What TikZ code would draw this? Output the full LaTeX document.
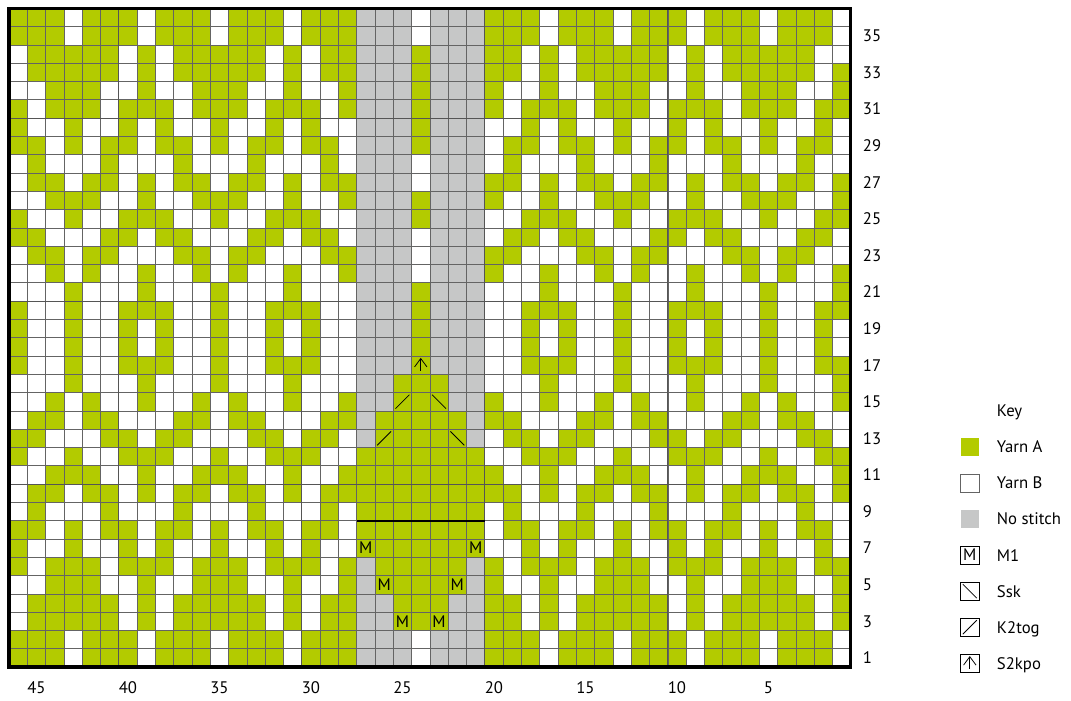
\documentclass[tikz,border=0pt]{standalone}
\usepackage{fontspec}
\setmainfont{PT Sans}
\definecolor{yarnA}{RGB}{179,203,0}
\definecolor{nostitch}{RGB}{198,199,199}
\definecolor{gridgray}{RGB}{100,100,100}

\begin{document}
\begin{tikzpicture}[
        x=0.5cm, y=0.5cm,
        font=\fontsize{13}{15}\selectfont,
        cell line/.style={draw=gridgray, line width=0.5pt},
        ten line/.style={draw=gridgray!85!black, line width=0.8pt},
        stitch mark/.style={black, line width=0.6pt},
        keybox/.style={minimum size=0.5cm, inner sep=0pt},
        label text/.style={inner sep=0pt, text depth=0pt},
        ssk/.pic={\draw[stitch mark] (-0.38,0.38) -- (0.38,-0.38);},
        k2tog/.pic={\draw[stitch mark] (-0.38,-0.38) -- (0.38,0.38);},
        s2kpo/.pic={\draw[stitch mark] (0,-0.3) -- (0,0.36);
                    \draw[stitch mark] (-0.34,-0.1) -- (0,0.36) -- (0.34,-0.1);}
    ]
    \useasboundingbox (-0.49,-1.80) rectangle (58.03,36.45);

    % Fair Isle pattern, 8-stitch repeat (one byte per row, rows 19-36 mirror rows 18-1)
    \foreach \row in {1,...,36} {
        \pgfmathtruncatemacro\rr{\row>18 ? 37-\row : \row}
        \pgfmathtruncatemacro\code{{238,238,125,125,57,187,146,214,68,109,57,147,198,108,41,17,147,146}[\rr-1]}
        \foreach \pos in {1,...,8} {
            \pgfmathtruncatemacro\bit{mod(floor(\code/2^(8-\pos)),2)}
            \ifnum\bit=1
                \foreach \rep in {0,8,16,22,30,38} {
                    \pgfmathtruncatemacro\col{\pos+\rep}
                    \pgfmathtruncatemacro\ok{(\col<20)||(\col>26)}
                    \ifnum\ok=1
                        \fill[yarnA] (\col-1,\row-1) rectangle ++(1,1);
                    \fi
                }
                \ifnum\pos=4
                    \fill[yarnA] (22,\row-1) rectangle ++(1,1);
                \fi
            \fi
        }
    }
    \fill[white] (45,33) rectangle ++(1,1);

    % no stitch columns
    \fill[nostitch] (19,0) rectangle (22,36);
    \fill[nostitch] (23,0) rectangle (26,36);

    % increases and decreases in yarn A
    \fill[yarnA] (21,2) rectangle (24,4);
    \fill[yarnA] (20,4) rectangle (25,6);
    \fill[yarnA] (19,6) rectangle (26,12);
    \fill[yarnA] (20,12) rectangle (25,14);
    \fill[yarnA] (21,14) rectangle (24,16);

    % grid
    \foreach \i in {0,...,46} \draw[cell line] (\i,0) -- (\i,36);
    \foreach \j in {0,...,36} \draw[cell line] (0,\j) -- (46,\j);
    \foreach \i in {6,16,26,36} \draw[ten line] (\i,0) -- (\i,36);
    \foreach \j in {10,20,30} \draw[ten line] (0,\j) -- (46,\j);
    \draw[line width=2.5pt] (0,0) rectangle (46,36);
    \draw[line width=1.6pt] (19,8) -- (26,8);

    % stitch symbols
    \node (m1) at (19.5,6.5) {M};
    \node (m2) at (25.5,6.5) {M};
    \node (m3) at (20.5,4.5) {M};
    \node (m4) at (24.5,4.5) {M};
    \node (m5) at (21.5,2.5) {M};
    \node (m6) at (23.5,2.5) {M};
    \pic at (20.5,12.5) {k2tog};
    \pic at (21.5,14.5) {k2tog};
    \pic at (24.5,12.5) {ssk};
    \pic at (23.5,14.5) {ssk};
    \pic at (22.5,16.5) {s2kpo};

    % row and stitch numbers
    \foreach \r in {1,3,...,35}
        \node[label text, anchor=west] (row\r) at (46.65,\r-0.5) {\r};
    \foreach \s in {5,10,...,45}
        \node[label text] (st\s) at (46.5-\s,-1.12) {\s};

    % key
    \node[label text, anchor=west] (key) at (53.97,14) {Key};
    \node[keybox, fill=yarnA] (swA) at (52.5,12.03) {};
    \node[label text, anchor=west] (txtA) at (53.97,12.03) {Yarn A};
    \node[keybox, draw=gridgray, line width=0.5pt] (swB) at (52.5,10.06) {};
    \node[label text, anchor=west] (txtB) at (53.97,10.06) {Yarn B};
    \node[keybox, fill=nostitch] (swN) at (52.5,8.09) {};
    \node[label text, anchor=west] (txtN) at (53.97,8.09) {No stitch};
    \node[keybox, draw=black, line width=0.5pt] (swM) at (52.5,6.12) {M};
    \node[label text, anchor=west] (txtM) at (53.97,6.12) {M1};
    \node[keybox, draw=black, line width=0.5pt] (swS) at (52.5,4.15) {};
    \pic at (swS) {ssk};
    \node[label text, anchor=west] (txtS) at (53.97,4.15) {Ssk};
    \node[keybox, draw=black, line width=0.5pt] (swK) at (52.5,2.18) {};
    \pic at (swK) {k2tog};
    \node[label text, anchor=west] (txtK) at (53.97,2.18) {K2tog};
    \node[keybox, draw=black, line width=0.5pt] (swP) at (52.5,0.21) {};
    \pic at (swP) {s2kpo};
    \node[label text, anchor=west] (txtP) at (53.97,0.21) {S2kpo};
\end{tikzpicture}
\end{document}
